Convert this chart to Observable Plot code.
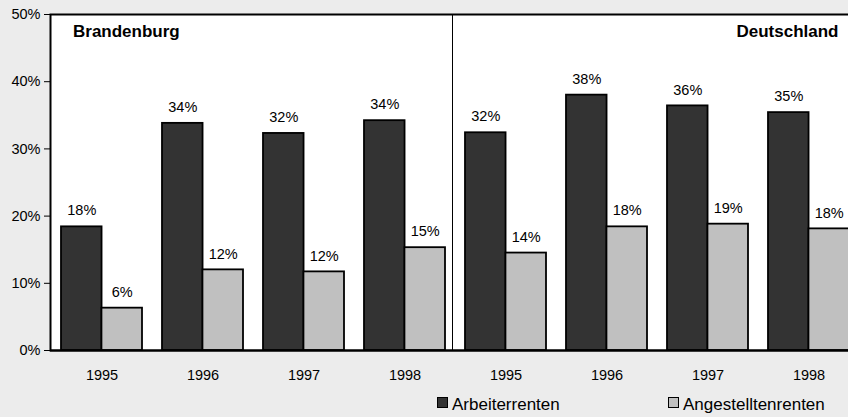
<!DOCTYPE html>
<html>
<head>
<meta charset="utf-8">
<script src="https://cdn.jsdelivr.net/npm/d3@7"></script>
<script src="https://cdn.jsdelivr.net/npm/@observablehq/plot@0.6"></script>
<style>
  html, body { margin: 0; padding: 0; background: #ececec; }
  #chart { width: 848px; }
  #legend { position: relative; width: 848px; height: 27px; font-family: "Liberation Sans", Arial, sans-serif; font-size: 17px; color: #000; }
  .sw { position: absolute; top: 7px; width: 11px; height: 11px; box-sizing: border-box; border: 1.5px solid #000; }
  .lt { position: absolute; top: 5px; line-height: normal; white-space: nowrap; }
</style>
</head>
<body>
<div id="chart"></div>
<div id="legend"></div>
<script>
const regions = ["Brandenburg", "Deutschland"];
const years = ["1995", "1996", "1997", "1998"];
const seriesNames = ["Arbeiterrenten", "Angestelltenrenten"];
const seriesColors = ["#333333", "#c0c0c0"];
const arbeiterrenten = [18.4, 33.8, 32.3, 34.2, 32.4, 38.0, 36.4, 35.4];
const angestelltenrenten = [6.3, 12.0, 11.7, 15.3, 14.5, 18.4, 18.8, 18.1];
const arbeiterLabels = ["18%", "34%", "32%", "34%", "32%", "38%", "36%", "35%"];
const angestelltLabels = ["6%", "12%", "12%", "15%", "14%", "18%", "19%", "18%"];
const yTicks = [0, 10, 20, 30, 40, 50];

const keys = [];
regions.forEach(r => years.forEach(y => keys.push(r + "|" + y)));
const dark = keys.map((k, i) => ({key: k, value: arbeiterrenten[i], label: arbeiterLabels[i]}));
const light = keys.map((k, i) => ({key: k, value: angestelltenrenten[i], label: angestelltLabels[i]}));
const half = 40.45;

const chart = Plot.plot({
  width: 848,
  height: 390,
  marginLeft: 50,
  marginRight: -2,
  marginTop: 14,
  marginBottom: 40,
  style: {background: "#ececec", fontFamily: "'Liberation Sans', Arial, sans-serif", fontSize: "14.5px", color: "#000"},
  x: {domain: keys, range: [50.6, 859.4], paddingInner: 0.2, paddingOuter: 0.1, tickSize: 0, tickPadding: 19, tickFormat: d => d.split("|")[1], label: null},
  y: {domain: [0, 50], ticks: yTicks, tickFormat: d => d + "%", tickSize: 6, tickPadding: 4, label: null},
  marks: [
    Plot.frame({fill: "white", stroke: "black", strokeWidth: 2}),
    Plot.ruleX([keys[4]], {x: d => d, dx: -53.5, y1: 0, y2: 50, stroke: "black", strokeWidth: 1}),
    Plot.barY(dark, {x: "key", y: "value", fill: seriesColors[0], stroke: "black", strokeWidth: 1.8, insetRight: half}),
    Plot.barY(light, {x: "key", y: "value", fill: seriesColors[1], stroke: "black", strokeWidth: 1.8, insetLeft: half}),
    Plot.text(dark, {x: "key", y: "value", text: "label", dx: -half / 2, dy: -16, lineAnchor: "middle"}),
    Plot.text(light, {x: "key", y: "value", text: "label", dx: half / 2, dy: -16, lineAnchor: "middle"}),
    Plot.text([regions[0]], {frameAnchor: "top-left", text: d => d, textAnchor: "start", lineAnchor: "top", dx: 22.5, dy: 10, fontSize: 17, fontWeight: "bold"}),
    Plot.text([regions[1]], {frameAnchor: "top-right", text: d => d, textAnchor: "end", lineAnchor: "top", dx: -12, dy: 10, fontSize: 17, fontWeight: "bold"}),
    Plot.ruleY([0], {stroke: "black", strokeWidth: 2})
  ]
});
document.getElementById("chart").appendChild(chart);

const legend = document.getElementById("legend");
const legendPos = [[437, 452], [668, 683]];
seriesNames.forEach((name, i) => {
  const sw = document.createElement("div");
  sw.className = "sw";
  sw.style.left = legendPos[i][0] + "px";
  sw.style.background = seriesColors[i];
  legend.appendChild(sw);
  const t = document.createElement("span");
  t.className = "lt";
  t.style.left = legendPos[i][1] + "px";
  t.textContent = name;
  legend.appendChild(t);
});
</script>
</body>
</html>
